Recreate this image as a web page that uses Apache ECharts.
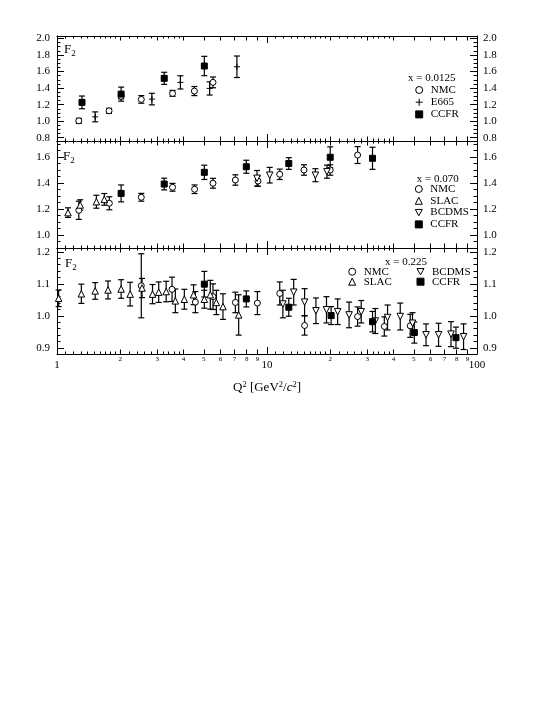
<!DOCTYPE html>
<html>
<head>
<meta charset="utf-8">
<script src="https://cdn.jsdelivr.net/npm/echarts@6/dist/echarts.min.js"></script>
<style>html,body{margin:0;padding:0;background:#fff}#c{width:556px;height:720px}</style>
</head>
<body>
<div id="c"></div>
<script>
const FONT = '"Liberation Serif", "DejaVu Serif", serif';

// ---------------- data: [Q^2, F2, error] ----------------
// panel x = 0.0125
const NMC_0125  = [[1.27,1.004,0.03],[1.77,1.125,0.03],[2.02,1.30,0.03],[2.52,1.263,0.046],[3.55,1.336,0.036],[4.51,1.364,0.055],[5.53,1.469,0.065]];
const E665_0125 = [[1.52,1.052,0.06],[2.83,1.267,0.07],[3.87,1.469,0.08],[5.33,1.396,0.08],[7.19,1.658,0.13]];
const CCFR_0125 = [[1.315,1.227,0.077],[2.02,1.327,0.085],[3.24,1.518,0.073],[5.03,1.667,0.117]];
// panel x = 0.070
const NMC_070   = [[1.27,1.19,0.07],[1.775,1.244,0.05],[2.52,1.29,0.03],[3.55,1.367,0.03],[4.52,1.352,0.033],[5.53,1.398,0.038],[7.07,1.423,0.04],[9.06,1.415,0.04],[11.5,1.467,0.04],[15.0,1.50,0.04],[20.0,1.50,0.04],[27.0,1.615,0.065]];
const SLAC_070  = [[1.128,1.172,0.037],[1.29,1.231,0.04],[1.54,1.256,0.05],[1.68,1.274,0.045]];
const BCDMS_070 = [[8.96,1.436,0.06],[10.3,1.46,0.06],[17.0,1.46,0.05],[19.3,1.487,0.05]];
const CCFR_070  = [[2.02,1.32,0.065],[3.24,1.392,0.045],[5.03,1.482,0.055],[7.97,1.525,0.05],[12.7,1.55,0.045],[20.0,1.598,0.08],[31.8,1.59,0.085]];
// panel x = 0.225
const NMC_225   = [[2.52,1.094,0.1],[3.53,1.083,0.038],[4.56,1.043,0.033],[5.53,1.06,0.04],[7.07,1.042,0.032],[9.0,1.04,0.036],[11.5,1.07,0.036],[15.1,0.97,0.03],[27.0,0.998,0.03],[36.2,0.967,0.03],[48.1,0.969,0.036]];
const SLAC_225  = [[1.018,1.055,0.026],[1.306,1.069,0.03],[1.52,1.078,0.026],[1.75,1.081,0.028],[2.02,1.084,0.029],[2.23,1.068,0.037],[2.54,1.087,0.03],[2.85,1.068,0.03],[3.05,1.074,0.032],[3.31,1.076,0.032],[3.66,1.047,0.037],[4.04,1.052,0.031],[4.47,1.066,0.031],[5.03,1.052,0.028],[5.37,1.066,0.045],[5.74,1.042,0.038],[6.17,1.029,0.04],[7.33,1.003,0.063]];
const BCDMS_225 = [[11.9,1.037,0.043],[13.4,1.074,0.04],[15.1,1.043,0.042],[17.1,1.016,0.04],[19.2,1.019,0.041],[21.7,1.013,0.04],[24.6,1.003,0.04],[28.1,1.013,0.035],[32.8,0.984,0.039],[37.5,0.995,0.039],[43.1,0.998,0.042],[49.3,0.977,0.033],[57.2,0.941,0.034],[65.6,0.941,0.036],[75.2,0.943,0.039],[86.3,0.935,0.04]];
const CCFR_225  = [[5.03,1.099,0.04],[7.97,1.053,0.025],[12.7,1.027,0.028],[20.2,1.001,0.028],[31.8,0.982,0.032],[50.3,0.948,0.033],[79.4,0.932,0.033]];

// ---------------- ticks ----------------
const xMidTicks   = [2,3,4,5,6,7,8,9,20,30,40,50,60,70,80,90];
const xMinorTicks = [1.1,1.2,1.3,1.4,1.5,1.6,1.7,1.8,1.9,2.2,2.4,2.6,2.8,3.2,3.4,3.6,3.8,
                     11,12,13,14,15,16,17,18,19,22,24,26,28,32,34,36,38];
const yMajor_0125 = [0.8,1.0,1.2,1.4,1.6,1.8,2.0];
const yMinor_0125 = [0.85,0.9,0.95,1.05,1.1,1.15,1.25,1.3,1.35,1.45,1.5,1.55,1.65,1.7,1.75,1.85,1.9,1.95];
const yMajor_070  = [1.0,1.2,1.4,1.6];
const yMinor_070  = [0.95,1.05,1.1,1.15,1.25,1.3,1.35,1.45,1.5,1.55,1.65,1.7];
const yMajor_225  = [0.9,1.0,1.1,1.2];
const yMinor_225  = [0.92,0.94,0.96,0.98,1.02,1.04,1.06,1.08,1.12,1.14,1.16,1.18];

const panelLabels = ['x = 0.0125','x = 0.070','x = 0.225'];

// ---------------- layout / style ----------------
const panels = [
  {top:36,  height:105, min:0.76, max:2.03,  major:yMajor_0125, minor:yMinor_0125,
   sets:[['NMC',NMC_0125],['E665',E665_0125],['CCFR',CCFR_0125]]},
  {top:141, height:107, min:0.9,  max:1.723, major:yMajor_070,  minor:yMinor_070,
   sets:[['NMC',NMC_070],['SLAC',SLAC_070],['BCDMS',BCDMS_070],['CCFR',CCFR_070]]},
  {top:248, height:106, min:0.881,max:1.212, major:yMajor_225,  minor:yMinor_225,
   sets:[['NMC',NMC_225],['SLAC',SLAC_225],['BCDMS',BCDMS_225],['CCFR',CCFR_225]]}
];
const GL = 57, GW = 420;

const styles = {
  NMC:   {symbol:'circle',   size:6,   fill:'#fff'},
  SLAC:  {symbol:'triangle', size:6.5, fill:'#fff'},
  BCDMS: {symbol:'path://M0,0L10,0L5,9Z', size:6.5, fill:'#fff'},
  E665:  {symbol:'path://M0,5L10,5M5,0L5,10', size:6, fill:'none'},
  CCFR:  {symbol:'rect',     size:6,   fill:'#000'}
};

const K = '#000';
function errRender(params, api) {
  const q = api.value(0), v = api.value(1), e = api.value(2);
  const a = api.coord([q, v + e]), b = api.coord([q, v - e]);
  const c = 3;
  const st = {stroke:K, lineWidth:1.2};
  return {type:'group', children:[
    {type:'line', shape:{x1:a[0],y1:a[1],x2:b[0],y2:b[1]}, style:st},
    {type:'line', shape:{x1:a[0]-c,y1:a[1],x2:a[0]+c,y2:a[1]}, style:st},
    {type:'line', shape:{x1:b[0]-c,y1:b[1],x2:b[0]+c,y2:b[1]}, style:st}
  ]};
}
function leading(v) {
  const p = Math.pow(10, Math.floor(Math.log10(v) + 1e-9));
  return String(Math.round(v / p));
}

const grid = [], xAxis = [], yAxis = [], series = [];
panels.forEach((p, gi) => {
  grid.push({left:GL, width:GW, top:p.top, height:p.height});
  const bottomPanel = gi === panels.length - 1;
  ['bottom','top'].forEach(pos => {
    const lab = bottomPanel && pos === 'bottom';
    const base = {gridIndex:gi, type:'log', logBase:10, min:1, max:100, position:pos,
                  splitLine:{show:false}, minorTick:{show:false}};
    const main = Object.assign({}, base, {
      axisLine:{show:true, onZero:false, lineStyle:{color:K, width:1}},
      axisTick:{show:true, inside:true, length:7, lineStyle:{color:K, width:1}},
      axisLabel:{show:lab, color:K, fontFamily:FONT, fontSize:11, margin:6}
    });
    if (lab) {
      Object.assign(main, {
        name:'Q{sup|2} [GeV{sup|2}/{it|c}{sup|2}]', nameLocation:'middle', nameGap:26,
        nameTextStyle:{color:K, fontFamily:FONT, fontSize:13,
          rich:{sup:{fontSize:8.5, fontFamily:FONT, color:K, padding:[0,0,7,0]},
                it:{fontSize:13, fontFamily:FONT, fontStyle:'italic', color:K}}}
      });
    }
    xAxis.push(main);
    xAxis.push(Object.assign({}, base, {
      axisLine:{show:false},
      axisTick:{show:true, inside:true, length:4.5, customValues:xMidTicks, lineStyle:{color:K, width:1}},
      axisLabel:{show:lab, customValues:xMidTicks, formatter:leading, color:K, fontFamily:FONT, fontSize:7, margin:2}
    }));
    xAxis.push(Object.assign({}, base, {
      axisLine:{show:false},
      axisTick:{show:true, inside:true, length:2.5, customValues:xMinorTicks, lineStyle:{color:K, width:1}},
      axisLabel:{show:false}
    }));
  });
  ['left','right'].forEach(pos => {
    const base = {gridIndex:gi, type:'value', min:p.min, max:p.max, position:pos, splitLine:{show:false}};
    yAxis.push(Object.assign({}, base, {
      axisLine:{show:true, onZero:false, lineStyle:{color:K, width:1}},
      axisTick:{show:true, inside:true, length:7, customValues:p.major, lineStyle:{color:K, width:1}},
      axisLabel:{show:true, customValues:p.major, formatter:v => v.toFixed(1), color:K,
                 fontFamily:FONT, fontSize:11, margin:pos === 'left' ? 7 : 6}
    }));
    yAxis.push(Object.assign({}, base, {
      axisLine:{show:false},
      axisTick:{show:true, inside:true, length:3.5, customValues:p.minor, lineStyle:{color:K, width:1}},
      axisLabel:{show:false}
    }));
  });
  const xi = gi * 6, yi = gi * 4;
  p.sets.forEach(([name, arr]) => {
    series.push({type:'custom', name:name + ' error', xAxisIndex:xi, yAxisIndex:yi, silent:true,
                 data:arr, encode:{x:0, y:1}, renderItem:errRender, z:2});
  });
  p.sets.forEach(([name, arr]) => {
    const s = styles[name];
    series.push({type:'scatter', name:name, xAxisIndex:xi, yAxisIndex:yi, silent:true,
                 data:arr.map(d => [d[0], d[1]]), symbol:s.symbol, symbolSize:s.size,
                 itemStyle:{color:s.fill, borderColor:K, borderWidth:1, opacity:1}, z:3});
  });
});

const legText = {color:K, fontFamily:FONT, fontSize:11, padding:[0,0,0,3]};
const legBase = {orient:'vertical', itemWidth:7, itemHeight:7, padding:0, selectedMode:false,
                 textStyle:legText, itemStyle:{borderWidth:1}};
const legend = [
  Object.assign({}, legBase, {data:['NMC','E665','CCFR'], left:413.2, top:84.5, itemGap:0.7}),
  Object.assign({}, legBase, {data:['NMC','SLAC','BCDMS','CCFR'], left:414.8, top:183.5, itemGap:0.8}),
  Object.assign({}, legBase, {data:['NMC','SLAC'], left:348.2, top:266.2, itemGap:-1}),
  Object.assign({}, legBase, {data:['BCDMS','CCFR'], left:416.5, top:266.2, itemGap:-1})
];

const txt = (x, y, text, extra) => ({type:'text', x:x, y:y, silent:true,
  style:Object.assign({text:text, fill:K, fontFamily:FONT, fontSize:11, verticalAlign:'middle'}, extra || {})});
const f2rich = {rich:{b:{fontSize:13, fontFamily:FONT, color:K}, s:{fontSize:9, fontFamily:FONT, color:K, padding:[7,0,0,0]}}};
const graphic = [
  txt(408, 78, panelLabels[0]),
  txt(416.7, 179, panelLabels[1]),
  txt(385, 261.7, panelLabels[2]),
  txt(64, 50, '{b|F}{s|2}', f2rich),
  txt(63, 157, '{b|F}{s|2}', f2rich),
  txt(65, 264, '{b|F}{s|2}', f2rich)
];

const chart = echarts.init(document.getElementById('c'), null, {renderer:'canvas'});
chart.setOption({
  backgroundColor:'#fff',
  animation:false,
  textStyle:{fontFamily:FONT, color:K},
  grid:grid, xAxis:xAxis, yAxis:yAxis, series:series, legend:legend, graphic:graphic
});
</script>
</body>
</html>
